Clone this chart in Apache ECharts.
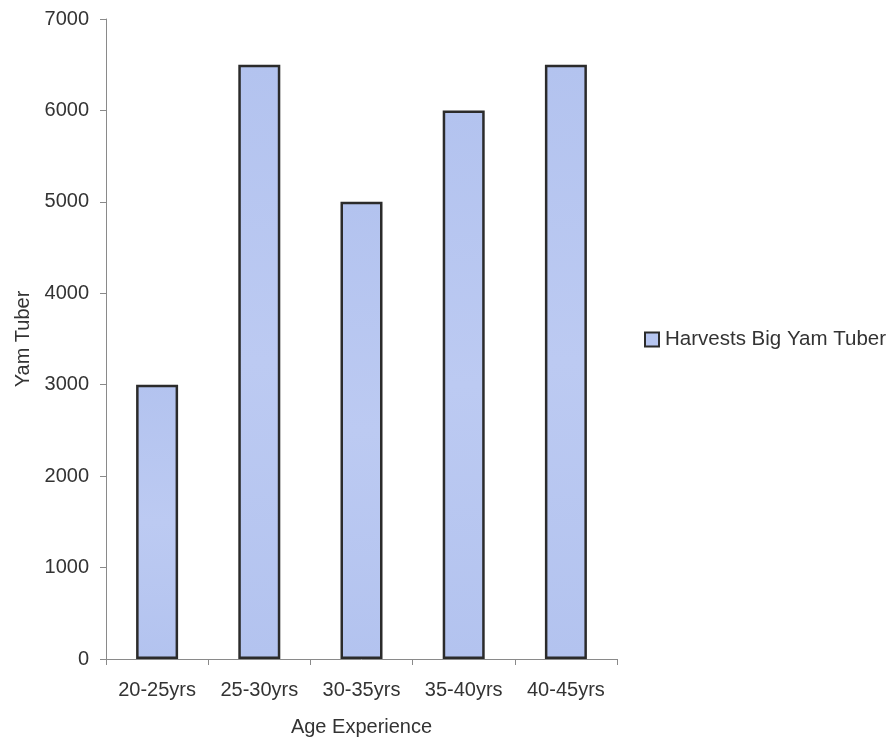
<!DOCTYPE html>
<html>
<head>
<meta charset="utf-8">
<script src="https://cdn.jsdelivr.net/npm/echarts@6/dist/echarts.min.js"></script>
<style>
  html, body { margin: 0; padding: 0; background: #fff; }
  #chart { width: 893px; height: 743px; }
</style>
</head>
<body>
<div id="chart"></div>
<script>
// Yam tuber harvests by years of farming experience
const categories = ['20-25yrs', '25-30yrs', '30-35yrs', '35-40yrs', '40-45yrs'];
const harvests = [3000, 6500, 5000, 6000, 6500];
const seriesName = 'Harvests Big Yam Tuber';

const textColor = '#333333';
const axisColor = '#8a8a8a';
const font = 'Arial, "Liberation Sans", sans-serif';

const chart = echarts.init(document.getElementById('chart'), null, { renderer: 'canvas' });

chart.setOption({
  backgroundColor: '#ffffff',
  animation: false,
  textStyle: { fontFamily: font, color: textColor },
  grid: { left: 106, right: 276, top: 19, bottom: 84, containLabel: false },
  legend: {
    data: [seriesName],
    left: 644,
    top: 329,
    padding: 0,
    orient: 'vertical',
    icon: 'rect',
    itemWidth: 14,
    itemHeight: 14,
    itemGap: 6,
    textStyle: { fontSize: 20.5, color: textColor, fontFamily: font, padding: [0, 0, 0, 1] },
    itemStyle: { color: '#b6c5f0', borderColor: '#2b2b2b', borderWidth: 2 }
  },
  xAxis: {
    type: 'category',
    data: categories,
    name: 'Age Experience',
    nameLocation: 'middle',
    nameGap: 58,
    nameTextStyle: { fontSize: 20, color: textColor, fontFamily: font },
    axisLine: { lineStyle: { color: axisColor, width: 1 } },
    axisTick: { show: true, alignWithLabel: false, length: 6, lineStyle: { color: axisColor } },
    axisLabel: { fontSize: 20, color: textColor, margin: 21, fontFamily: font, interval: 0 },
    splitLine: { show: false }
  },
  yAxis: {
    type: 'value',
    min: 0,
    max: 7000,
    interval: 1000,
    name: 'Yam Tuber',
    nameLocation: 'middle',
    nameGap: 72,
    nameTextStyle: { fontSize: 20, color: textColor, fontFamily: font },
    axisLine: { show: true, lineStyle: { color: axisColor, width: 1 } },
    axisTick: { show: true, length: 6, lineStyle: { color: axisColor } },
    axisLabel: { fontSize: 20, color: textColor, margin: 17, fontFamily: font, formatter: v => String(v) },
    splitLine: { show: false }
  },
  series: [{
    name: seriesName,
    type: 'bar',
    data: harvests,
    barWidth: 42,
    itemStyle: {
      color: new echarts.graphic.LinearGradient(0, 0, 0, 1, [
        { offset: 0, color: '#b3c3ef' },
        { offset: 0.5, color: '#bccaf2' },
        { offset: 1, color: '#b3c3ef' }
      ]),
      borderColor: '#2b2b2b',
      borderWidth: 2.5
    }
  }]
});
</script>
</body>
</html>
